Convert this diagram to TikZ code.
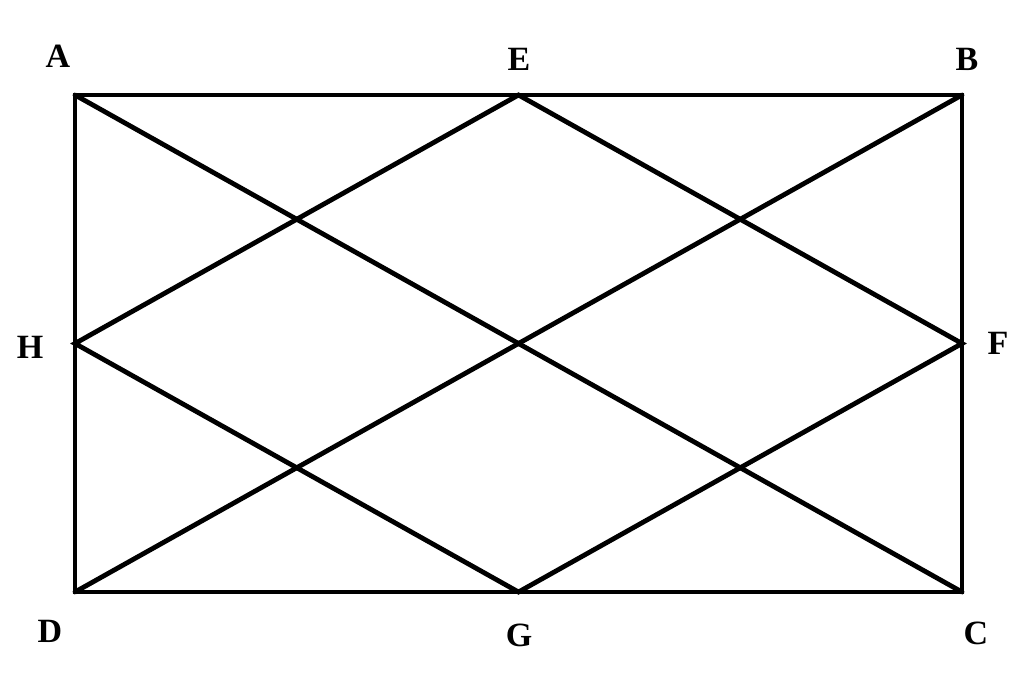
\documentclass[tikz,border=0pt]{standalone}
\usepackage{fontspec}
\setmainfont{Liberation Serif}
\begin{document}
\begin{tikzpicture}[x=1pt,y=-1pt,
  edge/.style={line width=4.8pt,line cap=round,line join=miter},
  lbl/.style={font=\fontsize{34}{34}\selectfont\bfseries,inner sep=0pt}]
\useasboundingbox (0,0) rectangle (1024,674);
\coordinate (A) at (75,95);
\coordinate (B) at (962,95);
\coordinate (C) at (962,592);
\coordinate (D) at (75,592);
\coordinate (E) at (518.5,95);
\coordinate (G) at (518.5,592);
\coordinate (H) at (75,343.5);
\coordinate (F) at (962,343.5);
\draw[edge] (A) -- (B) -- (C) -- (D) -- cycle;
\draw[edge] (A) -- (C);
\draw[edge] (B) -- (D);
\draw[edge] (E) -- (H) -- (G) -- (F) -- cycle;
\node[lbl] (lA) at (58,56) {A};
\node[lbl] (lE) at (519,59) {E};
\node[lbl] (lB) at (967,59) {B};
\node[lbl] (lH) at (30,347) {H};
\node[lbl] (lF) at (998,343) {F};
\node[lbl] (lD) at (50,631) {D};
\node[lbl] (lG) at (519,635) {G};
\node[lbl] (lC) at (976,633) {C};
\end{tikzpicture}
\end{document}
